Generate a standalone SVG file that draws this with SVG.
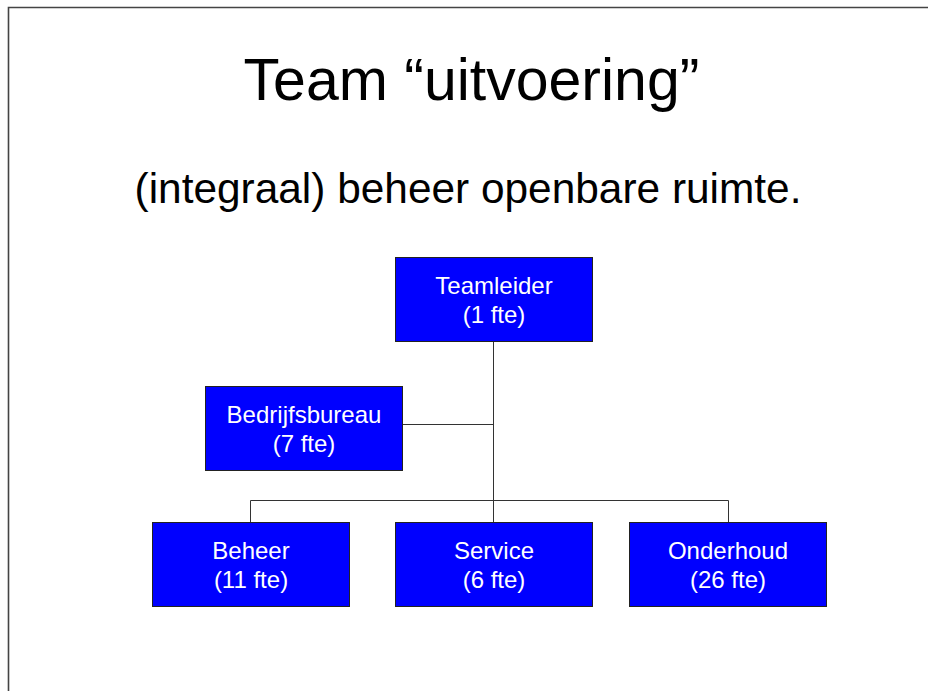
<svg xmlns="http://www.w3.org/2000/svg" width="928" height="691" viewBox="0 0 928 691">
<style>
.title{font-family:"Liberation Sans",Arial,sans-serif;fill:#000;text-anchor:middle}
.box{fill:#0000ff;stroke:#222;stroke-width:1}
.lbl{font-family:"Liberation Sans",Arial,sans-serif;font-size:24px;fill:#fff;text-anchor:middle}
.conn{fill:none;stroke:#333;stroke-width:1}
</style>
<rect x="0" y="0" width="928" height="691" fill="#fff"/>
<path d="M8.5 700 V7.5 H940" fill="none" stroke="#444" stroke-width="1.6"/>
<text class="title" x="471.5" y="100" font-size="59">Team “uitvoering”</text>
<text class="title" x="468" y="203" font-size="42.4">(integraal) beheer openbare ruimte.</text>
<g id="connectors">
<path class="conn" d="M493.5 341 V522"/>
<path class="conn" d="M403 424.5 H493.5"/>
<path class="conn" d="M250.5 522 V500.5 H728.5 V522"/>
</g>
<g id="teamleider">
<rect class="box" x="395.5" y="257.5" width="197" height="84"/>
<text class="lbl" x="494" y="294">Teamleider</text>
<text class="lbl" x="494" y="323">(1 fte)</text>
</g>
<g id="bedrijfsbureau">
<rect class="box" x="205.5" y="386.5" width="197" height="84"/>
<text class="lbl" x="304" y="423">Bedrijfsbureau</text>
<text class="lbl" x="304" y="452">(7 fte)</text>
</g>
<g id="beheer">
<rect class="box" x="152.5" y="522.5" width="197" height="84"/>
<text class="lbl" x="251" y="559">Beheer</text>
<text class="lbl" x="251" y="588">(11 fte)</text>
</g>
<g id="service">
<rect class="box" x="395.5" y="522.5" width="197" height="84"/>
<text class="lbl" x="494" y="559">Service</text>
<text class="lbl" x="494" y="588">(6 fte)</text>
</g>
<g id="onderhoud">
<rect class="box" x="629.5" y="522.5" width="197" height="84"/>
<text class="lbl" x="728" y="559">Onderhoud</text>
<text class="lbl" x="728" y="588">(26 fte)</text>
</g>
</svg>
